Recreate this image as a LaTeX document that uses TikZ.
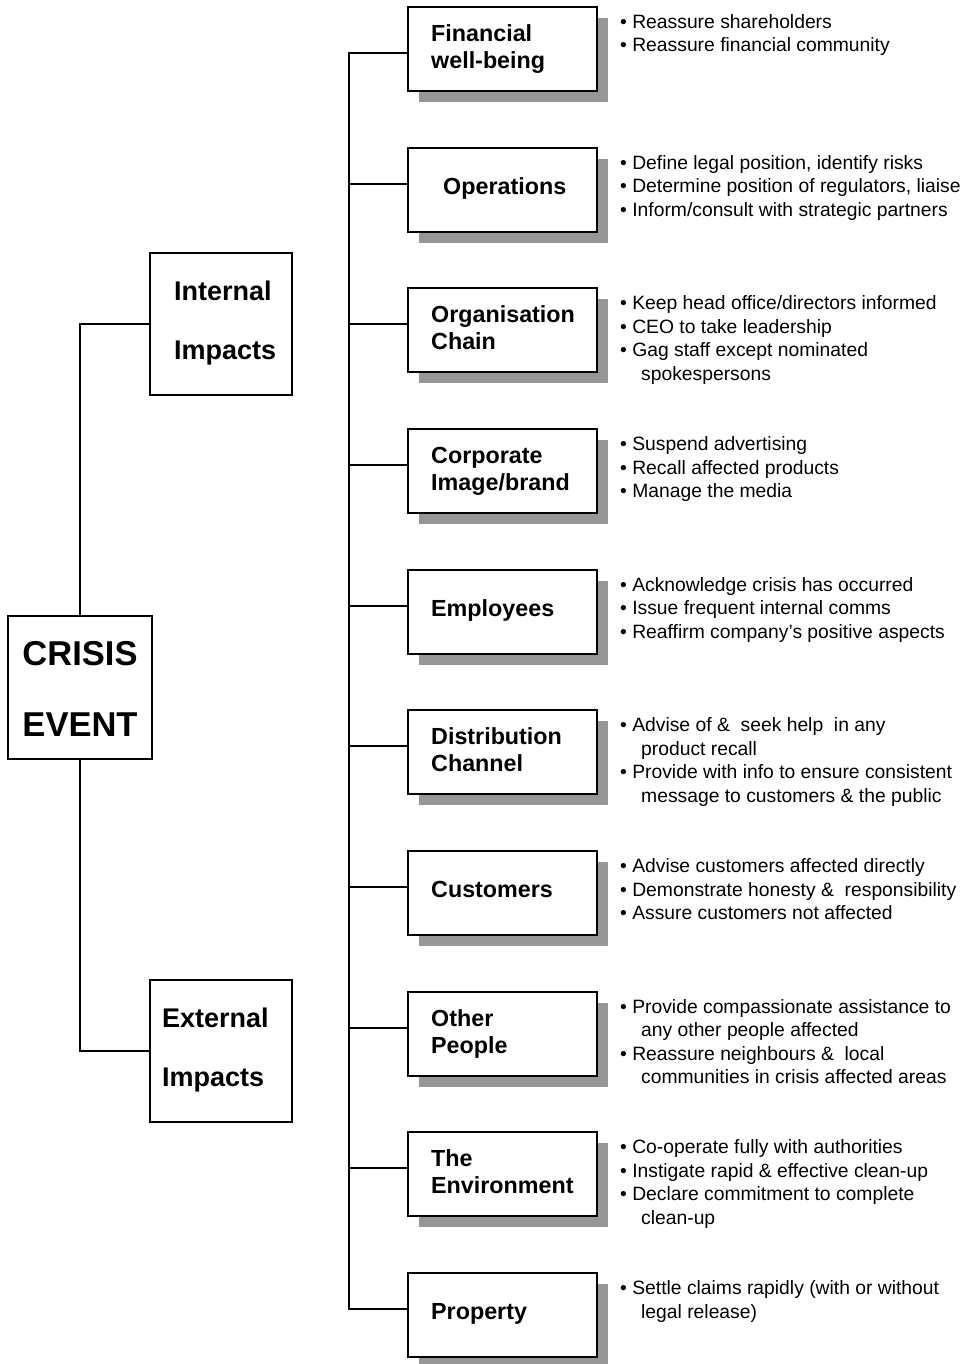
\documentclass[tikz,border=0pt]{standalone}
\usepackage{fontspec}
\setmainfont{Liberation Sans}
\usetikzlibrary{shadows}
\definecolor{shadowgray}{RGB}{150,150,150}
\newcommand{\bl}{\textbullet\ }
\newcommand{\ind}{\hspace*{21pt}}
\tikzset{
  conn/.style={line width=2pt, line cap=rect},
  box/.style={draw, line width=2pt, fill=white, minimum width=189pt, minimum height=84pt, inner sep=0pt,
    general shadow={fill=shadowgray, shadow xshift=11pt, shadow yshift=-11pt}},
  bigbox/.style={draw, line width=2pt, fill=white, minimum width=142pt, minimum height=142pt, inner sep=0pt},
  lbl/.style={inner sep=0pt, align=left, font={\fontsize{23.3pt}{27pt}\selectfont\bfseries}},
  bul/.style={inner sep=0pt, align=left, font={\fontsize{19.3pt}{23.5pt}\selectfont}},
  side/.style={inner sep=0pt, align=left, font={\fontsize{27pt}{59pt}\selectfont\bfseries}},
  crisis/.style={inner sep=0pt, align=center, font={\fontsize{34.5pt}{71pt}\selectfont\bfseries}}
}
\begin{document}
\begin{tikzpicture}[x=1pt,y=-1pt]
\useasboundingbox[fill=white] (0,0) rectangle (962,1364);

% left hierarchy
\node[bigbox, minimum width=144pt, minimum height=143pt] (crisisbox) at (80,687.5) {};
\node[crisis, anchor=base] (crisisT) at (80,736) {CRISIS\\EVENT};
\node[bigbox] (internal) at (221,324) {};
\node[side, anchor=base west] (internalT) at (174,359) {Internal\\Impacts};
\node[bigbox] (external) at (221,1051) {};
\node[side, anchor=base west] (externalT) at (162,1086) {External\\Impacts};
\draw[conn] (crisisbox.north) |- (internal.west);
\draw[conn] (crisisbox.south) |- (external.west);

% right boxes
\node[box] (b0) at (502.5,49) {};
\node[lbl, anchor=base west] (l0) at (431,68.5) {Financial\\well-being};
\node[bul, anchor=base west] (u0) at (620,52) {\bl Reassure shareholders\\\bl Reassure financial community};

\node[box] (b1) at (502.5,190) {};
\node[lbl, anchor=base west] (l1) at (443,194.5) {Operations};
\node[bul, anchor=base west] (u1) at (620,216.17) {\bl Define legal position, identify risks\\\bl Determine position of regulators, liaise\\\bl Inform/consult with strategic partners};

\node[box] (b2) at (502.5,330) {};
\node[lbl, anchor=base west] (l2) at (431,349.83) {Organisation\\Chain};
\node[bul, anchor=base west] (u2) at (620,380.33) {\bl Keep head office/directors informed\\\bl CEO to take leadership\\\bl Gag staff except nominated\\\ind spokespersons};

\node[box] (b3) at (502.5,471) {};
\node[lbl, anchor=base west] (l3) at (431,490.5) {Corporate\\Image/brand};
\node[bul, anchor=base west] (u3) at (620,497.5) {\bl Suspend advertising\\\bl Recall affected products\\\bl Manage the media};

\node[box] (b4) at (502.5,612) {};
\node[lbl, anchor=base west] (l4) at (431,616.3) {Employees};
\node[bul, anchor=base west] (u4) at (620,638.17) {\bl Acknowledge crisis has occurred\\\bl Issue frequent internal comms\\\bl Reaffirm company's positive aspects};

\node[box] (b5) at (502.5,752) {};
\node[lbl, anchor=base west] (l5) at (431,771.83) {Distribution\\Channel};
\node[bul, anchor=base west] (u5) at (620,802.33) {\bl Advise of \&\ \ seek help\ \ in any\\\ind product recall\\\bl Provide with info to ensure consistent\\\ind message to customers \& the public};

\node[box] (b6) at (502.5,893) {};
\node[lbl, anchor=base west] (l6) at (431,897.3) {Customers};
\node[bul, anchor=base west] (u6) at (620,919.5) {\bl Advise customers affected directly\\\bl Demonstrate honesty \&\ \ responsibility\\\bl Assure customers not affected};

\node[box] (b7) at (502.5,1034) {};
\node[lbl, anchor=base west] (l7) at (431,1053.17) {Other\\People};
\node[bul, anchor=base west] (u7) at (620,1083.67) {\bl Provide compassionate assistance to\\\ind any other people affected\\\bl Reassure neighbours \&\ \ local\\\ind communities in crisis affected areas};

\node[box] (b8) at (502.5,1174) {};
\node[lbl, anchor=base west] (l8) at (431,1193.83) {The\\Environment};
\node[bul, anchor=base west] (u8) at (620,1224.33) {\bl Co-operate fully with authorities\\\bl Instigate rapid \& effective clean-up\\\bl Declare commitment to complete\\\ind clean-up};

\node[box] (b9) at (502.5,1315) {};
\node[lbl, anchor=base west] (l9) at (431,1319.3) {Property};
\node[bul, anchor=base west] (u9) at (620,1318) {\bl Settle claims rapidly (with or without\\\ind legal release)};

% trunk and branches
\coordinate (t0) at (349,53);
\coordinate (t1) at (349,184);
\coordinate (t2) at (349,324);
\coordinate (t3) at (349,465);
\coordinate (t4) at (349,606);
\coordinate (t5) at (349,746);
\coordinate (t6) at (349,887);
\coordinate (t7) at (349,1028);
\coordinate (t8) at (349,1168);
\coordinate (t9) at (349,1309);
\draw[conn] (t0) -- (t9);
\foreach \i in {0,...,9} {\draw[conn] (t\i) -- (t\i -| b\i.west);}
\end{tikzpicture}
\end{document}
